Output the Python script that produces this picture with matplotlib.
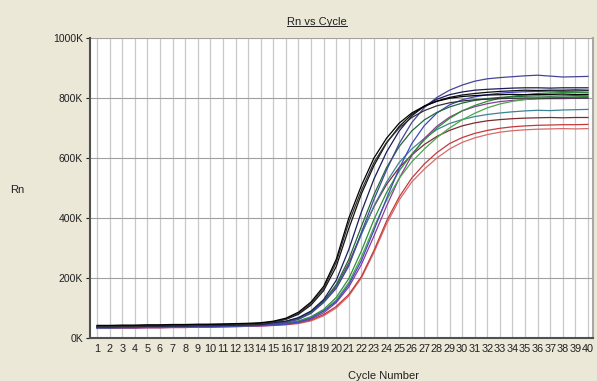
import matplotlib
matplotlib.use("Agg")
import matplotlib.pyplot as plt
from matplotlib.lines import Line2D

plt.rcParams['font.family'] = ['Liberation Sans', 'DejaVu Sans']

# cycle numbers and Rn readings (in thousands) for each well
cycles = list(range(1, 41))

black1 = [42, 42, 43, 43, 44, 44, 45, 45, 46, 46, 47, 48, 49, 51, 56, 66, 86, 120, 172, 262,
          400, 508, 600, 666, 716, 750, 773, 789, 799, 805, 808, 810, 811, 812, 811, 812, 812, 813, 812, 812]
black2 = [38, 38, 39, 39, 40, 40, 41, 41, 42, 42, 43, 44, 45, 47, 53, 63, 82, 115, 165, 252,
          385, 492, 585, 652, 700, 735, 758, 774, 784, 790, 794, 796, 798, 799, 800, 800, 799, 800, 800, 800]
black3 = [40, 40, 41, 41, 42, 42, 43, 43, 44, 45, 45, 46, 47, 49, 54, 62, 79, 110, 158, 238,
          365, 480, 575, 650, 705, 745, 772, 790, 802, 810, 815, 819, 822, 824, 826, 825, 826, 826, 827, 826]
navy_dark = [37, 37, 38, 38, 39, 39, 40, 40, 41, 41, 42, 43, 44, 45, 51, 56, 68, 90, 128, 192,
             295, 420, 530, 620, 690, 740, 773, 796, 811, 820, 826, 829, 831, 833, 834, 834, 833, 834, 834, 834]
navy_top = [36, 36, 37, 37, 38, 38, 39, 39, 40, 40, 41, 41, 42, 43, 47, 52, 62, 82, 118, 165,
            240, 352, 462, 560, 648, 718, 768, 802, 826, 843, 856, 864, 868, 871, 874, 876, 873, 870, 871, 872]
green_dark = [38, 38, 39, 39, 40, 40, 41, 41, 42, 42, 43, 44, 45, 46, 50, 55, 66, 87, 122, 178,
              262, 372, 478, 568, 638, 690, 727, 752, 770, 783, 792, 798, 802, 804, 806, 807, 806, 807, 808, 807]
teal = [36, 36, 37, 37, 38, 38, 39, 39, 40, 40, 41, 42, 43, 44, 48, 53, 63, 85, 122, 168,
        245, 345, 440, 520, 585, 630, 665, 695, 715, 728, 738, 745, 750, 754, 757, 759, 758, 760, 761, 762]
maroon = [38, 38, 39, 39, 40, 40, 41, 41, 42, 42, 43, 44, 45, 46, 50, 55, 66, 88, 125, 172,
          250, 348, 438, 512, 568, 610, 645, 672, 692, 707, 717, 724, 728, 731, 733, 734, 735, 734, 735, 735]
green1 = [36, 36, 37, 37, 38, 38, 39, 39, 40, 40, 41, 42, 43, 44, 47, 50, 57, 71, 95, 135,
          198, 290, 395, 485, 557, 613, 660, 700, 732, 757, 775, 789, 799, 806, 811, 815, 817, 818, 819, 818]
green2 = [34, 34, 35, 35, 36, 36, 37, 37, 38, 38, 39, 40, 41, 42, 45, 48, 55, 68, 90, 127,
          185, 270, 370, 460, 532, 587, 630, 668, 700, 727, 749, 767, 780, 789, 795, 799, 801, 802, 804, 805]
blue1 = [34, 34, 35, 35, 36, 36, 37, 37, 38, 38, 39, 40, 41, 42, 44, 47, 53, 66, 90, 122,
         178, 258, 360, 465, 565, 648, 708, 750, 777, 794, 804, 811, 816, 819, 821, 822, 823, 822, 823, 824]
purple = [32, 32, 33, 33, 34, 34, 35, 35, 36, 36, 37, 38, 39, 40, 42, 45, 51, 63, 84, 118,
          170, 245, 340, 440, 532, 608, 665, 706, 736, 757, 771, 781, 788, 792, 795, 797, 798, 798, 799, 800]
red1 = [34, 34, 35, 35, 36, 36, 37, 37, 38, 38, 39, 40, 41, 42, 44, 46, 51, 60, 78, 105,
        145, 205, 292, 390, 470, 533, 580, 618, 648, 668, 682, 692, 699, 704, 707, 709, 710, 711, 711, 712]
red2 = [32, 32, 33, 33, 34, 34, 35, 35, 36, 36, 37, 38, 39, 40, 42, 44, 48, 57, 74, 100,
        140, 200, 285, 380, 460, 520, 563, 600, 630, 652, 667, 678, 686, 691, 694, 696, 697, 698, 697, 698]

wells = [
    (red2, '#d86a6a'),
    (red1, '#c43a3a'),
    (maroon, '#7c2b35'),
    (teal, '#3b8496'),
    (purple, '#8b3b9b'),
    (green2, '#4aa84a'),
    (green1, '#2f8f3a'),
    (blue1, '#4048c0'),
    (green_dark, '#1f6a3a'),
    (navy_top, '#45459a'),
    (navy_dark, '#1c1c5c'),
    (black3, '#101010'),
    (black2, '#303030'),
    (black1, '#000000'),
]

y_ticks = [0, 200, 400, 600, 800, 1000]
y_labels = ['0K', '200K', '400K', '600K', '800K', '1000K']

bg = '#ebe8d8'
W, H = 597, 381
fig = plt.figure(figsize=(W / 100, H / 100), dpi=100, facecolor=bg)
ax = fig.add_axes([90 / W, 1 - 338 / H, 503 / W, 300 / H])
ax.set_facecolor('white')

for vals, col in wells:
    ax.plot(cycles, vals, color=col, lw=0.9)

ax.set_xlim(0.44, 40.4)
ax.set_ylim(0, 1000)
ax.set_xticks(cycles)
ax.set_xticklabels([str(c) for c in cycles], fontsize=7.8)
ax.set_yticks(y_ticks)
ax.set_yticklabels(y_labels, fontsize=7.5)
ax.tick_params(axis='x', length=0, pad=4, colors='#202020')
ax.tick_params(axis='y', length=3, width=0.8, pad=2, colors='#202020')

ax.xaxis.grid(True, color='#c8c8c8', lw=0.9)
ax.yaxis.grid(True, color='#a0a0a0', lw=0.8)
ax.set_axisbelow(True)

ax.spines['top'].set_visible(False)
ax.spines['right'].set_color('#a8a8a8')
ax.spines['right'].set_linewidth(1.5)
ax.spines['left'].set_color('#505050')
ax.spines['left'].set_linewidth(1.5)
ax.spines['bottom'].set_color('#505050')
ax.spines['bottom'].set_linewidth(1.5)

title = fig.text(317 / W, 1 - 22 / H, 'Rn vs Cycle', fontsize=8, ha='center', va='center', color='#202020')
fig.text(17 / W, 1 - 190 / H, 'Rn', fontsize=8, ha='center', va='center', color='#202020')
fig.text(383 / W, 1 - 376 / H, 'Cycle Number', fontsize=8, ha='center', va='center', color='#202020')

# underline the title
fig.canvas.draw()
bb = title.get_window_extent().transformed(fig.transFigure.inverted())
fig.add_artist(Line2D([bb.x0, bb.x1], [bb.y0 + 0.002, bb.y0 + 0.002], color='#202020', lw=0.7,
                      transform=fig.transFigure))

fig.savefig('out.png', dpi=100, facecolor=bg)
